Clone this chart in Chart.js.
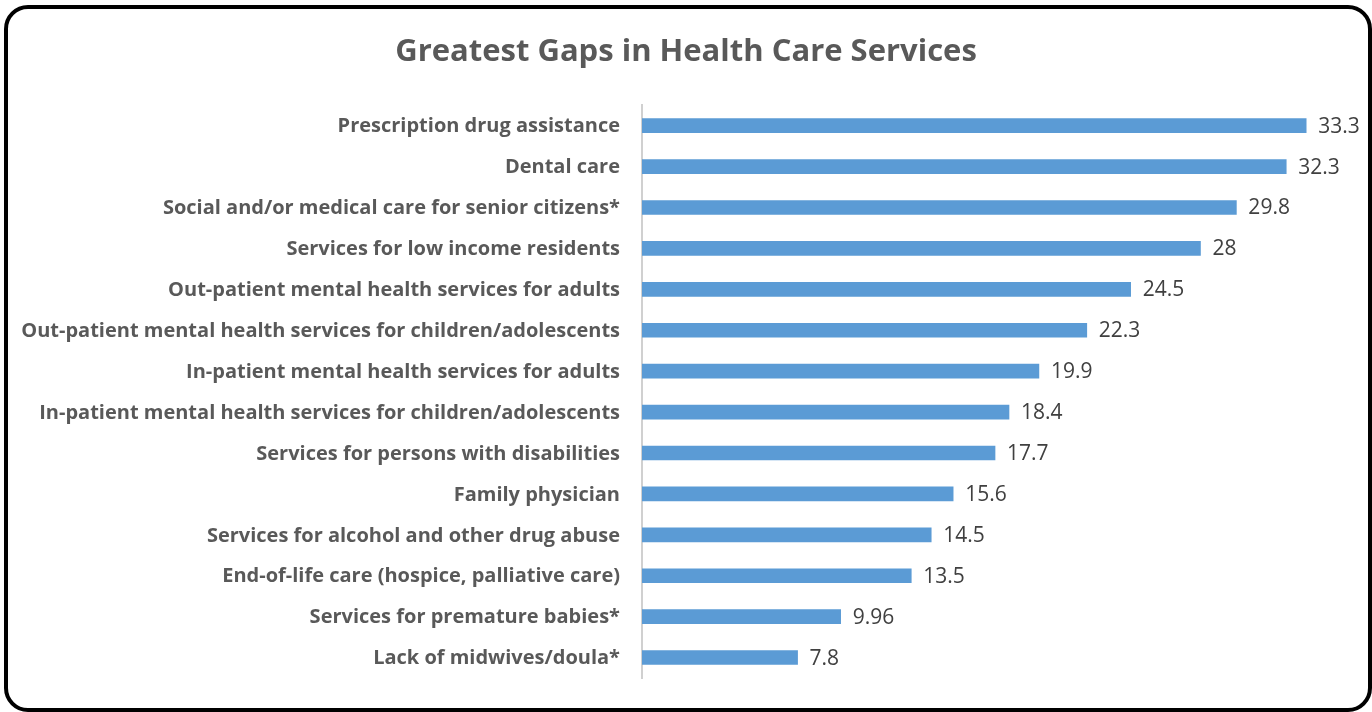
<!DOCTYPE html>
<html>
<head>
<meta charset="utf-8">
<title>Greatest Gaps in Health Care Services</title>
<script src="https://cdn.jsdelivr.net/npm/chart.js@4.4.1/dist/chart.umd.min.js"></script>
<style>
  html, body { margin: 0; padding: 0; background: #ffffff; }
  #wrap { position: relative; width: 1372px; height: 712px; overflow: hidden; }
  #frame {
    position: absolute; left: 4px; top: 5px; width: 1368px; height: 707px;
    box-sizing: border-box; border: 4px solid #000; border-radius: 24px;
    pointer-events: none;
  }
  canvas { position: absolute; left: 0; top: 0; }
</style>
</head>
<body>
<div id="wrap">
  <canvas id="chart" width="1372" height="712"></canvas>
  <div id="frame"></div>
</div>
<script>
// Survey categories, top to bottom
const categories = [
  "Prescription drug assistance",
  "Dental care",
  "Social and/or medical care for senior citizens*",
  "Services for low income residents",
  "Out-patient mental health services for adults",
  "Out-patient mental health services for children/adolescents",
  "In-patient mental health services for adults",
  "In-patient mental health services for children/adolescents",
  "Services for persons with disabilities",
  "Family physician",
  "Services for alcohol and other drug abuse",
  "End-of-life care (hospice, palliative care)",
  "Services for premature babies*",
  "Lack of midwives/doula*"
];

// Share of respondents naming each gap
const gapValues = [33.3, 32.3, 29.8, 28, 24.5, 22.3, 19.9, 18.4, 17.7, 15.6, 14.5, 13.5, 9.96, 7.8];

const chartTitle = "Greatest Gaps in Health Care Services";
const FONT = "'Open Sans', sans-serif";

// Writes each bar's value just past its end
const valueLabels = {
  id: 'valueLabels',
  afterDatasetsDraw(chart) {
    const ctx = chart.ctx;
    const meta = chart.getDatasetMeta(0);
    const data = chart.data.datasets[0].data;
    ctx.save();
    ctx.font = "21px " + FONT;
    ctx.fillStyle = "#404040";
    ctx.textAlign = "left";
    ctx.textBaseline = "middle";
    meta.data.forEach((bar, i) => {
      ctx.fillText(String(data[i]), bar.x + 12, bar.y + 1);
    });
    ctx.restore();
  }
};

new Chart(document.getElementById('chart'), {
  type: 'bar',
  data: {
    labels: categories,
    datasets: [{
      data: gapValues,
      backgroundColor: '#5B9BD5',
      borderWidth: 0,
      barThickness: 14
    }]
  },
  options: {
    indexAxis: 'y',
    responsive: false,
    animation: false,
    layout: { padding: { left: 0, right: 0, top: 0, bottom: 29 } },
    plugins: {
      legend: { display: false },
      tooltip: { enabled: false },
      title: {
        display: true,
        text: chartTitle,
        color: '#595959',
        font: { family: FONT, size: 31, weight: 'bold', lineHeight: 1.2 },
        padding: { top: 34, bottom: 34 }
      }
    },
    scales: {
      x: {
        display: false,
        min: 0,
        max: 36.6
      },
      y: {
        afterFit(scale) { scale.width = 642; },
        grid: { display: false, drawTicks: false },
        border: { display: true, color: '#D0D0D0', width: 2 },
        ticks: {
          color: '#595959',
          padding: 22,
          labelOffset: 1,
          font: { family: FONT, size: 20, weight: 'bold' }
        }
      }
    }
  },
  plugins: [valueLabels]
});
</script>
</body>
</html>
